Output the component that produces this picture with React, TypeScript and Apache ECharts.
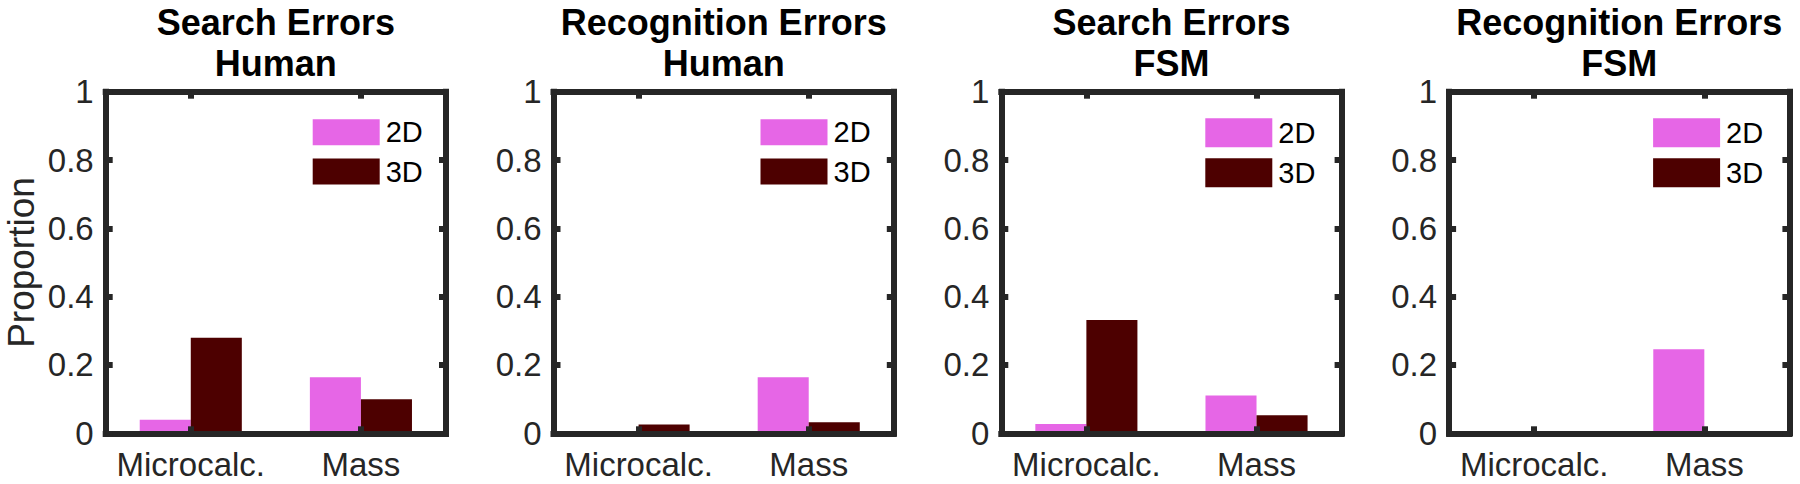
import React, { useEffect, useRef } from "react";
import * as echarts from "echarts";

const categories = ["Microcalc.", "Mass"];
const errorTypes = ["Search Errors", "Recognition Errors", "Search Errors", "Recognition Errors"];
const readers = ["Human", "Human", "FSM", "FSM"];
const seriesNames = ["2D", "3D"];

const searchHuman2D = [0.04, 0.164];
const searchHuman3D = [0.28, 0.1];
const recogHuman2D = [0, 0.164];
const recogHuman3D = [0.026, 0.032];
const searchFSM2D = [0.027, 0.111];
const searchFSM3D = [0.332, 0.053];
const recogFSM2D = [0, 0.246];
const recogFSM3D = [0, 0];

const panels2D = [searchHuman2D, recogHuman2D, searchFSM2D, recogFSM2D];
const panels3D = [searchHuman3D, recogHuman3D, searchFSM3D, recogFSM3D];

const COLORS = ["#E666E6", "#4D0000"];
const AXIS = "#262626";
const FONT = "Liberation Sans";

export default function App() {
  const ref = useRef<HTMLDivElement>(null);
  useEffect(() => {
    document.body.style.margin = "0";
    if (!ref.current) return;
    const chart = echarts.init(ref.current, null, { renderer: "svg" });

    const left0 = 105.7;
    const step = 447.8;
    const gw = 340.3;
    const gtop = 91.7;
    const gh = 341.6;

    const grid: any[] = [];
    const xAxis: any[] = [];
    const yAxis: any[] = [];
    const series: any[] = [];
    const legend: any[] = [];
    const graphic: any[] = [];

    const lineStyle = { color: AXIS, width: 6, cap: "square" };
    const tick = { show: true, inside: true, length: 7, lineStyle: { color: AXIS, width: 6 } };

    for (let i = 0; i < 4; i++) {
      const left = left0 + step * i;
      grid.push({ left, top: gtop, width: gw, height: gh, containLabel: false, outerBoundsMode: "none" });
      xAxis.push({
        type: "category",
        gridIndex: i,
        data: categories,
        position: "bottom",
        z: 5,
        axisLine: { show: true, onZero: false, lineStyle },
        axisTick: { ...tick, alignWithLabel: true, interval: 0 },
        axisLabel: {
          show: true,
          interval: 0,
          hideOverlap: false,
          color: AXIS,
          fontSize: 33,
          fontFamily: FONT,
          margin: 15,
        },
        splitLine: { show: false },
      });
      xAxis.push({
        type: "category",
        gridIndex: i,
        data: categories,
        position: "top",
        z: 5,
        axisLine: { show: true, onZero: false, lineStyle },
        axisTick: { ...tick, alignWithLabel: true, interval: 0 },
        axisLabel: { show: false },
        splitLine: { show: false },
      });
      yAxis.push({
        type: "value",
        gridIndex: i,
        min: 0,
        max: 1,
        interval: 0.2,
        position: "left",
        z: 5,
        name: i === 0 ? "Proportion" : "",
        nameLocation: "middle",
        nameGap: 66,
        nameTextStyle: { color: AXIS, fontSize: 37, fontFamily: FONT },
        axisLine: { show: true, onZero: false, lineStyle },
        axisTick: tick,
        axisLabel: { show: true, color: AXIS, fontSize: 33, fontFamily: FONT, margin: 12 },
        splitLine: { show: false },
      });
      yAxis.push({
        type: "value",
        gridIndex: i,
        min: 0,
        max: 1,
        interval: 0.2,
        position: "right",
        z: 5,
        axisLine: { show: true, onZero: false, lineStyle },
        axisTick: tick,
        axisLabel: { show: false },
        splitLine: { show: false },
      });

      const vals = [panels2D[i], panels3D[i]];
      for (let s = 0; s < 2; s++) {
        series.push({
          type: "bar",
          name: seriesNames[s],
          xAxisIndex: i * 2,
          yAxisIndex: i * 2,
          data: vals[s],
          barWidth: "30%",
          barGap: "0%",
          itemStyle: { color: COLORS[s] },
          z: 2,
        });
      }

      const big = i >= 2;
      legend.push({
        data: seriesNames,
        orient: "vertical",
        left: left + (big ? 204 : 207),
        top: big ? 118.3 : 117.7,
        padding: 0,
        itemWidth: 67,
        itemHeight: big ? 29 : 26,
        itemGap: big ? 11 : 10.3,
        icon: "rect",
        selectedMode: false,
        textStyle: { color: "#000", fontSize: 29, fontFamily: FONT, padding: [0, 0, 0, 1] },
      });

      graphic.push({
        type: "text",
        x: left + gw / 2,
        y: 2,
        z: 10,
        style: {
          text: errorTypes[i] + "\n" + readers[i],
          fill: "#000",
          fontSize: 36,
          fontWeight: "bold",
          fontFamily: FONT,
          align: "center",
          verticalAlign: "top",
          lineHeight: 41,
        },
      });
    }

    chart.setOption({
      animation: false,
      backgroundColor: "#fff",
      textStyle: { fontFamily: FONT },
      grid,
      xAxis,
      yAxis,
      series,
      legend,
      graphic,
    });
    return () => chart.dispose();
  }, []);
  return <div ref={ref} style={{ width: 1800, height: 484 }} />;
}
